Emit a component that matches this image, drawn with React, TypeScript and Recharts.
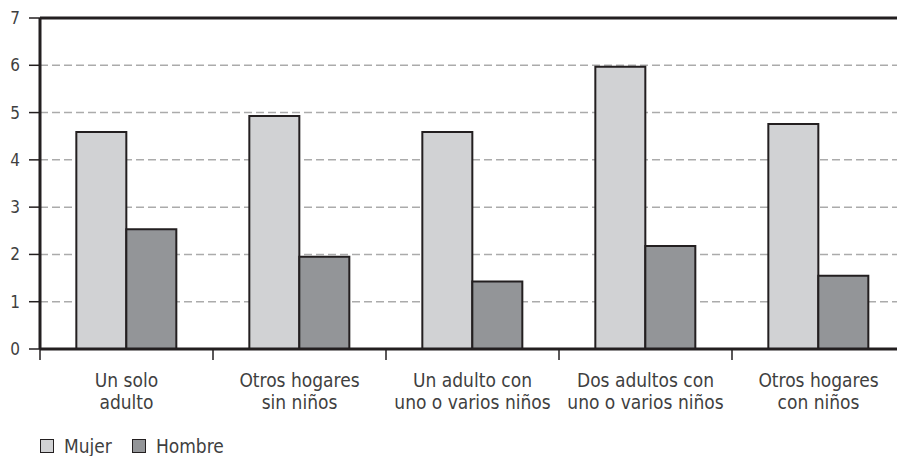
import React from "react";
import {
  BarChart,
  Bar,
  CartesianGrid,
  XAxis,
  YAxis,
  ReferenceLine,
} from "recharts";

// categories (each label is split over two lines)
const categories = [
  ["Un solo", "adulto"],
  ["Otros hogares", "sin niños"],
  ["Un adulto con", "uno o varios niños"],
  ["Dos adultos con", "uno o varios niños"],
  ["Otros hogares", "con niños"],
];
const mujer = [4.59, 4.93, 4.59, 5.97, 4.76];
const hombre = [2.53, 1.95, 1.43, 2.18, 1.55];
const yTicks = [0, 1, 2, 3, 4, 5, 6, 7];
const seriesNames = ["Mujer", "Hombre"];
const seriesColors = ["#d1d2d4", "#939598"];

const data = categories.map((c, i) => ({
  name: c.join(" "),
  Mujer: mujer[i],
  Hombre: hombre[i],
}));

const CHART_W = 910;
const CHART_H = 415;
const LEFT = 40;
const RIGHT_M = 5;
const BAND = (CHART_W - LEFT - RIGHT_M) / categories.length;
const FONT = "'Liberation Sans Narrow', 'DejaVu Sans Condensed', 'Open Sans', sans-serif";
const TEXT = "#3f3f3f";
const INK = "#231f20";

const CatTick = (props: any) => {
  const { x, y, index } = props;
  const lines = categories[index] || [];
  return (
    <g>
      <line x1={x - BAND / 2} x2={x - BAND / 2} y1={y} y2={y + 11} stroke={INK} strokeWidth={1.5} />
      <text x={x} y={y} textAnchor="middle" fill={TEXT} fontSize={19} fontFamily={FONT}>
        {lines.map((l, i) => (
          <tspan key={i} x={x} y={y + 38 + i * 22}>
            {l}
          </tspan>
        ))}
      </text>
    </g>
  );
};

const App = () => {
  return (
    <div style={{ position: "absolute", left: 0, top: 0, width: 897, height: 456, overflow: "hidden", background: "#fff" }}>
      <BarChart
        width={CHART_W}
        height={CHART_H}
        data={data}
        margin={{ top: 18, right: RIGHT_M, left: 0, bottom: 0 }}
        barCategoryGap="21%"
        barGap={0}
      >
        <CartesianGrid vertical={false} stroke="#ababab" strokeDasharray="8 4" strokeWidth={1.5} />
        <XAxis
          dataKey="name"
          height={66}
          interval={0}
          tickSize={0}
          tickMargin={0}
          tickLine={false}
          axisLine={{ stroke: INK, strokeWidth: 3 }}
          tick={<CatTick />}
        />
        <YAxis
          width={LEFT}
          domain={[0, 7]}
          ticks={yTicks}
          interval={0}
          tickSize={11}
          tickMargin={9}
          tickLine={{ stroke: INK, strokeWidth: 1.5 }}
          axisLine={{ stroke: INK, strokeWidth: 3 }}
          tick={{ fill: TEXT, fontSize: 17, fontFamily: FONT }}
        />
        <ReferenceLine y={7} stroke={INK} strokeWidth={3} />
        <Bar dataKey="Mujer" fill={seriesColors[0]} stroke={INK} strokeWidth={2} isAnimationActive={false} />
        <Bar dataKey="Hombre" fill={seriesColors[1]} stroke={INK} strokeWidth={2} isAnimationActive={false} />
      </BarChart>
      <div style={{ position: "absolute", left: 40, top: 435, display: "flex", alignItems: "center", fontFamily: FONT, fontSize: 19, color: TEXT, lineHeight: "22px" }}>
        {seriesNames.map((n, i) => (
          <div key={n} style={{ display: "flex", alignItems: "center", marginRight: 20 }}>
            <span style={{ display: "inline-block", width: 12, height: 12, background: seriesColors[i], border: `1.5px solid ${INK}`, marginRight: 10 }} />
            <span>{n}</span>
          </div>
        ))}
      </div>
    </div>
  );
};

export default App;
